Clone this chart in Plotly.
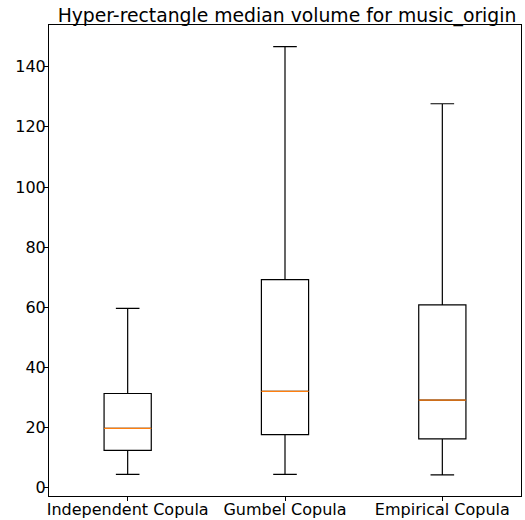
import plotly.graph_objects as go

categories = ["Independent Copula", "Gumbel Copula", "Empirical Copula"]
lower_whisker = [4.4, 4.4, 4.2]
q1 = [12.4, 17.6, 16.2]
median = [19.7, 32.0, 29.1]
q3 = [31.3, 69.2, 60.8]
upper_whisker = [59.6, 146.7, 127.7]
yticks = [0, 20, 40, 60, 80, 100, 120, 140]

positions = list(range(1, len(categories) + 1))
box_w = 0.3

W, H = 525, 520

fig = go.Figure()
fig.add_trace(go.Box(
    x=positions, q1=q1, median=median, q3=q3,
    lowerfence=lower_whisker, upperfence=upper_whisker,
    width=box_w, whiskerwidth=0.5,
    line=dict(color="black", width=1.2),
    fillcolor="rgba(255,255,255,0)",
    boxpoints=False, showlegend=False, hoverinfo="skip",
))
for p, m in zip(positions, median):
    fig.add_trace(go.Scatter(
        x=[p - box_w / 2, p + box_w / 2], y=[m, m], mode="lines",
        line=dict(color="#ff7f0e", width=1.2), showlegend=False, hoverinfo="skip",
    ))

fig.update_layout(
    width=W, height=H,
    margin=dict(l=49, r=4, t=25, b=24, pad=0),
    paper_bgcolor="white", plot_bgcolor="white",
    font=dict(family="DejaVu Sans", size=16, color="black"),
    title=dict(text="Hyper-rectangle median volume for music_origin",
               x=287 / W, xanchor="center", xref="container",
               y=1 - 15 / H, yanchor="middle", yref="container",
               font=dict(size=18.8, color="black")),
)
fig.update_xaxes(range=[0.5, 3.5], tickvals=positions, ticktext=categories,
                 showline=True, linecolor="black", linewidth=1, mirror=True,
                 ticks="outside", ticklen=4, tickcolor="black", showgrid=False,
                 zeroline=False, automargin=False, ticklabelstandoff=-5)
fig.update_yaxes(range=[-2.8, 153.9], tickvals=yticks,
                 showline=True, linecolor="black", linewidth=1, mirror=True,
                 ticks="outside", ticklen=4, tickcolor="black", showgrid=False,
                 zeroline=False, automargin=False, ticklabelstandoff=-5)
fig.write_html("out.html", config={"displayModeBar": False, "staticPlot": True},
               post_script="document.body.style.margin='0';document.body.style.overflow='hidden';")
